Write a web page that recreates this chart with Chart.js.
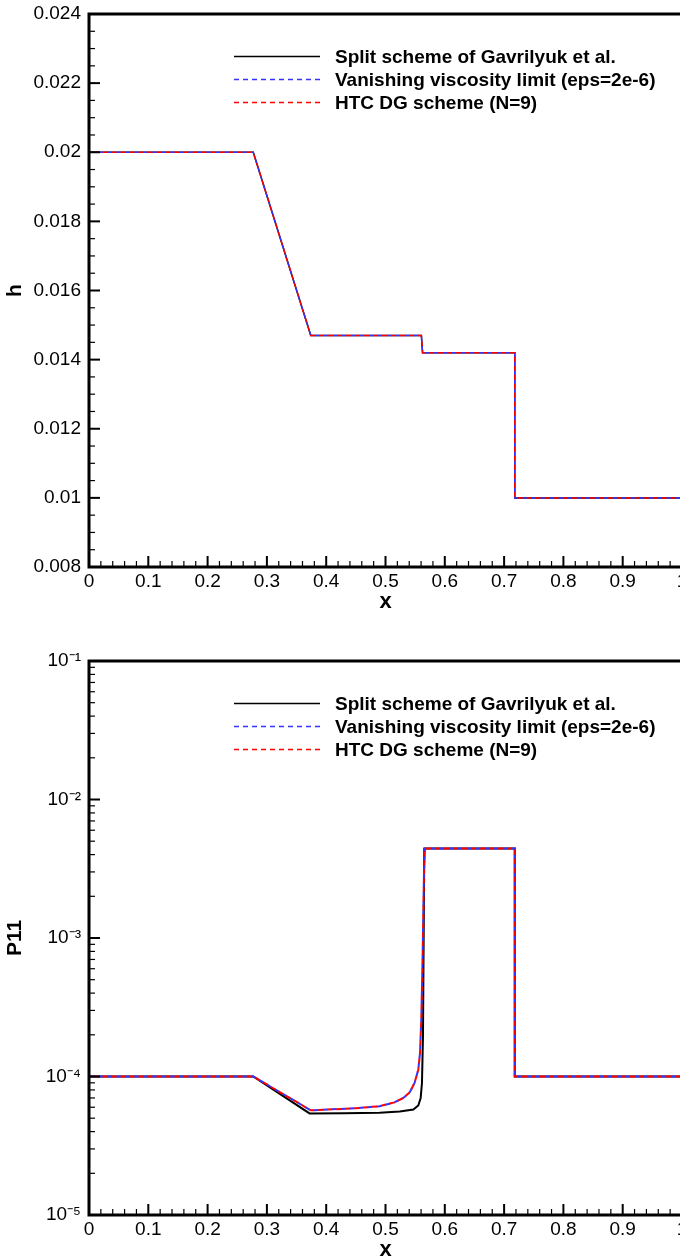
<!DOCTYPE html>
<html>
<head>
<meta charset="utf-8">
<script src="https://cdn.jsdelivr.net/npm/chart.js@4.4.1/dist/chart.umd.min.js"></script>
<style>
    html, body { margin: 0; padding: 0; background: #fff; overflow: hidden; width: 680px; height: 1259px; }
    canvas { display: block; }
</style>
</head>
<body>
<canvas id="hChart" width="700" height="630"></canvas>
<canvas id="pChart" width="700" height="640"></canvas>
<script>
// ===== Tick labels =====
const xTicks = [0, 0.1, 0.2, 0.3, 0.4, 0.5, 0.6, 0.7, 0.8, 0.9, 1];
const hTicks = [0.008, 0.01, 0.012, 0.014, 0.016, 0.018, 0.02, 0.022, 0.024];
const pTicks = [1e-5, 1e-4, 1e-3, 1e-2, 1e-1];

const seriesNames = [
    'Split scheme of Gavrilyuk et al.',
    'Vanishing viscosity limit (eps=2e-6)',
    'HTC DG scheme (N=9)',
];

// ===== h(x) — uchala yechim deyarli ustma-ust =====
const hX      = [0, 0.277, 0.374, 0.5605, 0.5625, 0.718, 0.718, 1];
const hSplit  = [0.02, 0.02, 0.0147, 0.0147, 0.0142, 0.0142, 0.01, 0.01];
const hVanish = [0.02, 0.02, 0.0147, 0.0147, 0.0142, 0.0142, 0.01, 0.01];
const hHtc    = [0.02, 0.02, 0.0147, 0.0147, 0.0142, 0.0142, 0.01, 0.01];

// ===== P11(x) =====
const pSplitX = [0, 0.277, 0.372, 0.43, 0.49, 0.524, 0.547, 0.5553, 0.5593, 0.5615, 0.5632, 0.5654, 0.718, 0.718, 1];
const pSplit  = [1e-4, 1e-4, 5.41e-5, 5.43e-5, 5.47e-5, 5.59e-5, 5.78e-5, 6.18e-5, 7.0e-5, 9.0e-5, 1.95e-4, 4.43e-3, 4.43e-3, 1e-4, 1e-4];

const pDashX  = [0, 0.277, 0.374, 0.45, 0.49, 0.515, 0.53, 0.541, 0.549, 0.5553, 0.5582, 0.5604, 0.5627, 0.565, 0.5665, 0.718, 0.718, 1];
const pVanish = [1e-4, 1e-4, 5.7e-5, 5.9e-5, 6.1e-5, 6.5e-5, 7.0e-5, 7.7e-5, 9.0e-5, 1.12e-4, 1.48e-4, 2.6e-4, 7.8e-4, 3.1e-3, 4.43e-3, 4.43e-3, 1e-4, 1e-4];
const pHtc    = [1e-4, 1e-4, 5.7e-5, 5.9e-5, 6.1e-5, 6.5e-5, 7.0e-5, 7.7e-5, 9.0e-5, 1.12e-4, 1.48e-4, 2.6e-4, 7.8e-4, 3.1e-3, 4.43e-3, 4.43e-3, 1e-4, 1e-4];

const FONT = "'Liberation Sans', Arial, Helvetica, sans-serif";
const SUP = { '-': '\u207B', '0': '\u2070', '1': '\u00B9', '2': '\u00B2', '3': '\u00B3', '4': '\u2074', '5': '\u2075', '6': '\u2076', '7': '\u2077', '8': '\u2078', '9': '\u2079' };

const toPoints = (xs, ys) => xs.map((x, i) => ({ x, y: ys[i] }));

/** Ramka, ichki tick chiziqlari va legend */
const framePlugin = {
    id: 'frame',
    afterDatasetsDraw(chart, args, opts) {
        const { ctx, chartArea: a, scales: { x, y } } = chart;
        ctx.save();
        ctx.strokeStyle = '#000';
        ctx.lineCap = 'butt';

        // x ticks (ichkariga)
        for (let i = 0; i <= 50; i++) {
            const px = x.getPixelForValue(i * 0.02);
            const major = i % 5 === 0;
            ctx.lineWidth = major ? 2 : 1.2;
            ctx.beginPath();
            ctx.moveTo(px, a.bottom);
            ctx.lineTo(px, a.bottom - (major ? 11 : 6));
            ctx.stroke();
        }

        // y ticks
        const yTicks = [];
        if (opts.log) {
            for (let e = -5; e <= -2; e++) {
                for (let m = 1; m <= 9; m++) yTicks.push({ v: m * Math.pow(10, e), major: m === 1 });
            }
        } else {
            for (let i = 0; i <= 32; i++) yTicks.push({ v: 0.008 + i * 0.0005, major: i % 4 === 0 });
        }
        yTicks.forEach(t => {
            const py = y.getPixelForValue(t.v);
            ctx.lineWidth = t.major ? 2 : 1.2;
            ctx.beginPath();
            ctx.moveTo(a.left, py);
            ctx.lineTo(a.left + (t.major ? 11 : 6), py);
            ctx.stroke();
        });

        ctx.lineWidth = 3;
        ctx.strokeRect(a.left, a.top, a.right - a.left, a.bottom - a.top);

        // legend
        ctx.font = `bold 19px ${FONT}`;
        ctx.textBaseline = 'middle';
        ctx.fillStyle = '#000';
        chart.data.datasets.forEach((ds, i) => {
            const ry = a.top + 42.5 + i * 23;
            ctx.strokeStyle = ds.borderColor;
            ctx.lineWidth = 1.3;
            ctx.setLineDash(ds.borderDash || []);
            ctx.lineDashOffset = 0;
            ctx.beginPath();
            ctx.moveTo(234, ry);
            ctx.lineTo(320, ry);
            ctx.stroke();
            ctx.setLineDash([]);
            ctx.fillText(ds.label, 335, ry + 1);
        });
        ctx.restore();
    },
};

function makeChart(canvasId, datasets, yScale, yTitle, padTop, padBottom, log) {
    return new Chart(document.getElementById(canvasId), {
        type: 'line',
        data: { datasets },
        options: {
            responsive: false,
            devicePixelRatio: 1,
            animation: false,
            events: [],
            layout: { padding: { left: 0, top: padTop, right: 18, bottom: padBottom } },
            elements: { point: { radius: 0 }, line: { tension: 0 } },
            plugins: { legend: { display: false }, tooltip: { enabled: false }, frame: { log } },
            scales: {
                x: {
                    type: 'linear', min: 0, max: 1,
                    afterBuildTicks: s => { s.ticks = xTicks.map(v => ({ value: v })); },
                    afterFit: s => { s.height = 48; s.paddingLeft = 0; s.paddingRight = 0; },
                    grid: { display: false, drawTicks: false },
                    border: { display: false },
                    ticks: {
                        padding: 3, color: '#000', maxRotation: 0, autoSkip: false,
                        font: { family: FONT, size: 19 },
                        callback: v => String(+v.toFixed(1)),
                    },
                    title: { display: true, text: 'x', color: '#000', padding: 0, font: { family: FONT, size: 22, weight: 'bold' } },
                },
                y: Object.assign({
                    afterFit: s => { s.width = 89; s.paddingTop = 0; s.paddingBottom = 0; },
                    grid: { display: false, drawTicks: false },
                    border: { display: false },
                    title: { display: true, text: yTitle, color: '#000', padding: { top: 3, bottom: 0 }, font: { family: FONT, size: 21, weight: 'bold' } },
                }, yScale),
            },
        },
        plugins: [framePlugin],
    });
}

// order: kattaroq qiymat pastda chiziladi — qizil eng ustida
const lineStyles = [
    { borderColor: '#000000', borderWidth: 1.5, borderDash: [], order: 3 },
    { borderColor: '#3333ff', borderWidth: 1.5, borderDash: [5, 4], order: 2 },
    { borderColor: '#ff0000', borderWidth: 1.5, borderDash: [5, 4], borderDashOffset: 4.5, order: 1 },
];

makeChart('hChart', [
    Object.assign({ label: seriesNames[0], data: toPoints(hX, hSplit) }, lineStyles[0]),
    Object.assign({ label: seriesNames[1], data: toPoints(hX, hVanish) }, lineStyles[1]),
    Object.assign({ label: seriesNames[2], data: toPoints(hX, hHtc) }, lineStyles[2]),
], {
    type: 'linear', min: 0.008, max: 0.024,
    afterBuildTicks: s => { s.ticks = hTicks.map(v => ({ value: v })); },
    ticks: {
        padding: 8, color: '#000', autoSkip: false,
        font: { family: FONT, size: 19 },
        callback: v => String(+v.toFixed(3)),
    },
}, 'h', 14, 15, false);

makeChart('pChart', [
    Object.assign({ label: seriesNames[0], data: toPoints(pSplitX, pSplit) }, lineStyles[0], { borderWidth: 2 }),
    Object.assign({ label: seriesNames[1], data: toPoints(pDashX, pVanish) }, lineStyles[1], { borderWidth: 2 }),
    Object.assign({ label: seriesNames[2], data: toPoints(pDashX, pHtc) }, lineStyles[2], { borderWidth: 2 }),
], {
    type: 'logarithmic', min: 1e-5, max: 1e-1,
    afterBuildTicks: s => { s.ticks = pTicks.map(v => ({ value: v })); },
    ticks: {
        padding: 8, color: '#000', autoSkip: false,
        font: { family: FONT, size: 19 },
        callback: v => '10' + String(Math.round(Math.log10(v))).split('').map(c => SUP[c]).join(''),
    },
}, 'P11', 31, 7, true);
</script>
</body>
</html>
